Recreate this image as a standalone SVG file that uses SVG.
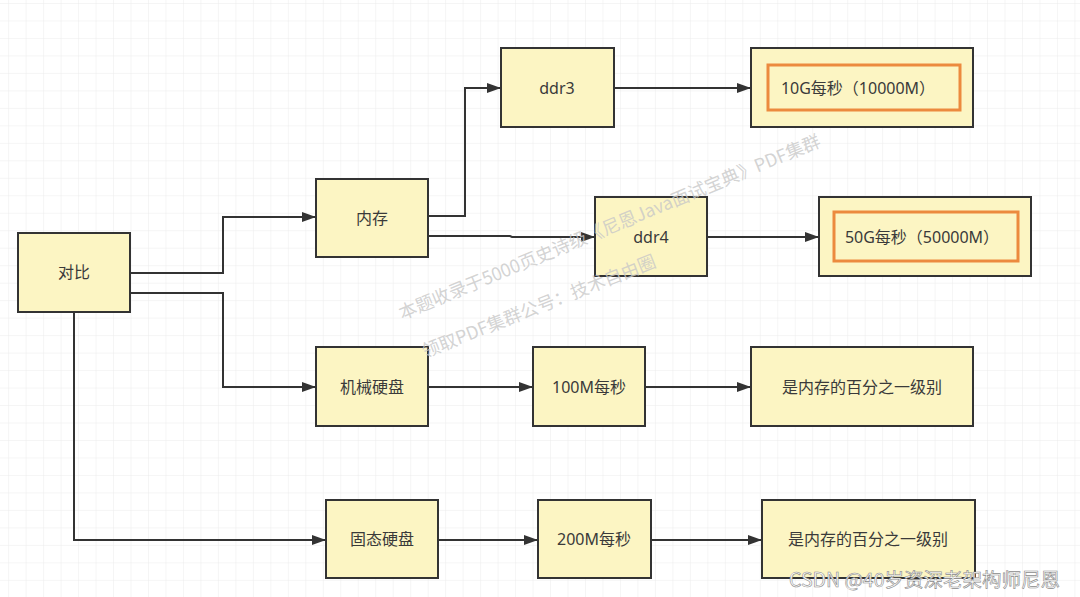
<svg xmlns="http://www.w3.org/2000/svg" width="1080" height="597" viewBox="0 0 1080 597">
<defs>
<pattern id="grid" x="8.16" y="3" width="17.48" height="17.48" patternUnits="userSpaceOnUse">
<path d="M0 0 H17.48 M0 0 V17.48" fill="none" stroke="#ebebeb" stroke-width="1"/>
</pattern>
<marker id="arr" viewBox="0 0 14 10" refX="13" refY="5" markerWidth="14" markerHeight="10" markerUnits="userSpaceOnUse" orient="auto">
<path d="M0 0 L14 5 L0 10 Z" fill="#333"/>
</marker>
<style>
.box{fill:#fcf5c3;stroke:#333;stroke-width:2}
.inner{fill:none;stroke:#ec8a3e;stroke-width:3}
.lbl{font-family:"Noto Sans","Noto Sans CJK SC",sans-serif;font-size:16px;fill:#3a3a3a;text-anchor:middle;dominant-baseline:central}
.edge{fill:none;stroke:#333;stroke-width:2;marker-end:url(#arr)}
.wm{font-family:"Noto Sans CJK SC",sans-serif;font-size:18px;fill:#c8c8c8;fill-opacity:0.8}
</style>
</defs>
<rect width="1080" height="597" fill="#ffffff"/>
<rect width="1080" height="597" fill="url(#grid)"/>

<g id="connectors">
<path class="edge" d="M130 273 H223 V217 H315"/>
<path class="edge" d="M130 293 H223 V387 H315"/>
<path class="edge" d="M74 312 V540 H325"/>
<path class="edge" d="M428 216 H465 V88 H500"/>
<path class="edge" d="M428 236 H510 L512 237 H594"/>
<path class="edge" d="M614 88 H750"/>
<path class="edge" d="M707 237 H818"/>
<path class="edge" d="M428 387 H532"/>
<path class="edge" d="M645 387 H750"/>
<path class="edge" d="M438 540 H537"/>
<path class="edge" d="M651 540 H761"/>
</g>

<g id="n-duibi"><rect class="box" x="18" y="233" width="112" height="79"/><text class="lbl" x="74" y="272">对比</text></g>
<g id="n-neicun"><rect class="box" x="316" y="179" width="112" height="78"/><text class="lbl" x="372" y="218">内存</text></g>
<g id="n-ddr3"><rect class="box" x="501" y="48" width="113" height="79"/><text class="lbl" x="557" y="88">ddr3</text></g>
<g id="n-10g"><rect class="box" x="751" y="48" width="222" height="79"/><rect class="inner" x="768" y="65" width="192" height="45"/><text class="lbl" x="858" y="88">10G每秒（10000M）</text></g>
<g id="n-ddr4"><rect class="box" x="595" y="197" width="112" height="79"/><text class="lbl" x="651" y="237">ddr4</text></g>
<g id="n-50g"><rect class="box" x="819" y="197" width="212" height="79"/><rect class="inner" x="834" y="212" width="184" height="49"/><text class="lbl" x="922" y="237">50G每秒（50000M）</text></g>
<g id="n-hdd"><rect class="box" x="316" y="347" width="112" height="79"/><text class="lbl" x="372" y="387">机械硬盘</text></g>
<g id="n-100m"><rect class="box" x="533" y="347" width="112" height="79"/><text class="lbl" x="589" y="387">100M每秒</text></g>
<g id="n-hdd-level"><rect class="box" x="751" y="347" width="222" height="79"/><text class="lbl" x="862" y="387">是内存的百分之一级别</text></g>
<g id="n-ssd"><rect class="box" x="326" y="500" width="112" height="78"/><text class="lbl" x="382" y="539">固态硬盘</text></g>
<g id="n-200m"><rect class="box" x="538" y="500" width="113" height="78"/><text class="lbl" x="594" y="539">200M每秒</text></g>
<g id="n-ssd-level"><rect class="box" x="762" y="500" width="213" height="78"/><text class="lbl" x="868" y="539">是内存的百分之一级别</text></g>

<g id="watermark">
<text class="wm" transform="translate(402,320) rotate(-22.5)">本题收录于5000页史诗级《尼恩Java面试宝典》PDF集群</text>
<text class="wm" transform="translate(425,358) rotate(-21.5)">领取PDF集群公号：技术自由圈</text>
<text x="789" y="587" font-family="Noto Sans CJK SC, sans-serif" font-size="19.5" fill="#ffffff" stroke="#8a8a8a" stroke-width="0.6">CSDN @40岁资深老架构师尼恩</text>
</g>
</svg>
